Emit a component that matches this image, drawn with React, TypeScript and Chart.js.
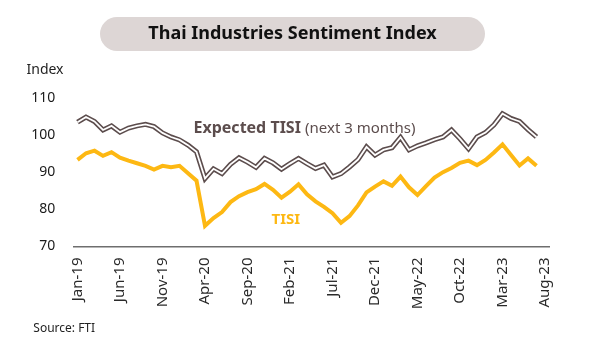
import React, { useEffect, useRef } from 'react';
import { Chart, registerables } from 'chart.js';

Chart.register(...registerables);

const months = [
  'Jan-19', 'Feb-19', 'Mar-19', 'Apr-19', 'May-19', 'Jun-19', 'Jul-19', 'Aug-19', 'Sep-19', 'Oct-19', 'Nov-19', 'Dec-19',
  'Jan-20', 'Feb-20', 'Mar-20', 'Apr-20', 'May-20', 'Jun-20', 'Jul-20', 'Aug-20', 'Sep-20', 'Oct-20', 'Nov-20', 'Dec-20',
  'Jan-21', 'Feb-21', 'Mar-21', 'Apr-21', 'May-21', 'Jun-21', 'Jul-21', 'Aug-21', 'Sep-21', 'Oct-21', 'Nov-21', 'Dec-21',
  'Jan-22', 'Feb-22', 'Mar-22', 'Apr-22', 'May-22', 'Jun-22', 'Jul-22', 'Aug-22', 'Sep-22', 'Oct-22', 'Nov-22', 'Dec-22',
  'Jan-23', 'Feb-23', 'Mar-23', 'Apr-23', 'May-23', 'Jun-23', 'Jul-23', 'Aug-23',
];

const tickLabels = [
  'Jan-19', 'Jun-19', 'Nov-19', 'Apr-20', 'Sep-20', 'Feb-21', 'Jul-21', 'Dec-21', 'May-22', 'Oct-22', 'Mar-23', 'Aug-23',
];

const tisi: (number | null)[] = [
  93.4, 95.2, 95.9, 94.5, 95.5, 94.0, 93.2, 92.5, 91.8, 90.8, 91.8, 91.4,
  91.8, 89.8, 87.8, 75.6, 77.7, 79.3, 82.0, 83.6, 84.7, 85.5, 86.9, 85.3,
  83.2, 84.8, 86.8, 84.1, 82.2, 80.7, 79.0, 76.4, 78.2, 81.1, 84.6, 86.2,
  87.6, 86.4, 88.9, 86.0, 83.9, 86.3, 88.6, 90.1, 91.2, 92.6, 93.2, 92.0,
  93.4, 95.4, 97.6, 94.7, 91.9, 93.8, 91.8, null,
];

const expected: (number | null)[] = [
  103.6, 105.0, 103.8, 101.5, 102.6, 100.9, 102.0, 102.6, 103.0, 102.4, 100.7, 99.6,
  98.8, 97.4, 95.6, 88.4, 91.0, 89.7, 92.2, 94.0, 92.8, 91.4, 93.8, 92.6,
  90.9, 92.4, 93.8, 92.4, 91.1, 92.0, 88.8, 89.7, 91.5, 93.5, 96.9, 94.7,
  96.1, 96.7, 99.5, 96.1, 97.2, 98.0, 98.9, 99.6, 101.5, 99.1, 96.4, 99.6,
  100.8, 102.9, 105.9, 104.6, 103.8, 101.6, 99.6, null,
];

const YELLOW = '#FDB813';
const BROWN = '#5C4D4D';
const FONT = '"Noto Sans", sans-serif';

function Txt(props: {
  x: number; base: number; size: number; center?: boolean; bold?: boolean; color?: string; children: React.ReactNode;
}) {
  const { x, base, size, center, bold, color, children } = props;
  return (
    <div
      style={{
        position: 'absolute',
        left: x,
        top: base - 0.888 * size,
        fontSize: size,
        lineHeight: size + 'px',
        fontWeight: bold ? 700 : 400,
        color: color || '#222',
        whiteSpace: 'nowrap',
        transform: center ? 'translateX(-50%)' : undefined,
        fontFamily: FONT,
      }}
    >
      {children}
    </div>
  );
}

export default function App() {
  const ref = useRef<HTMLCanvasElement>(null);

  useEffect(() => {
    document.body.style.margin = '0';
    const canvas = ref.current;
    if (!canvas) return;
    const chart = new Chart(canvas, {
      type: 'line',
      data: {
        labels: months,
        datasets: [
          {
            label: 'Expected inner',
            data: expected,
            borderColor: '#ffffff',
            borderWidth: 1.8,
            pointRadius: 0,
            tension: 0,
            fill: false,
          },
          {
            label: 'Expected TISI',
            data: expected,
            borderColor: BROWN,
            borderWidth: 5,
            pointRadius: 0,
            tension: 0,
            fill: false,
          },
          {
            label: 'TISI',
            data: tisi,
            borderColor: YELLOW,
            borderWidth: 4,
            pointRadius: 0,
            tension: 0,
            fill: false,
          },
        ],
      },
      options: {
        animation: false,
        responsive: false,
        maintainAspectRatio: false,
        layout: { padding: { top: 98.5, right: 50.75, left: 0, bottom: 0 } },
        plugins: { legend: { display: false }, tooltip: { enabled: false }, title: { display: false } },
        scales: {
          x: {
            type: 'category',
            offset: true,
            grid: { display: false, drawTicks: false },
            border: { display: true, color: '#6e6e6e', width: 1.5 },
            ticks: {
              autoSkip: false,
              maxRotation: 90,
              minRotation: 90,
              padding: 11,
              color: '#2a2a2a',
              font: { family: FONT, size: 15 },
              callback: function (this: any, _v: any, i: number) {
                const l = months[i];
                return tickLabels.includes(l) ? l : '';
              },
            },
            afterFit: (scale: any) => {
              scale.height = 106.5;
            },
          },
          y: {
            min: 70,
            max: 110,
            grid: { display: false, drawTicks: false },
            border: { display: false },
            ticks: {
              stepSize: 10,
              padding: 18,
              color: '#1a1a1a',
              font: { family: FONT, size: 14 },
            },
            afterFit: (scale: any) => {
              scale.width = 73.25;
            },
          },
        },
      },
    });
    return () => chart.destroy();
  }, []);

  return (
    <div style={{ position: 'relative', width: 600, height: 353, overflow: 'hidden', background: '#fff', fontFamily: FONT }}>
      <canvas ref={ref} width={600} height={353} style={{ position: 'absolute', left: 0, top: 0 }} />
      <div
        style={{
          position: 'absolute',
          left: 100,
          top: 17,
          width: 385,
          height: 34,
          borderRadius: 17,
          background: '#DDD6D5',
        }}
      />
      <Txt x={292.5} base={39.3} size={18} bold center color="#111">Thai Industries Sentiment Index</Txt>
      <Txt x={26.5} base={74.3} size={14} color="#222">Index</Txt>
      <Txt x={193.5} base={133.3} size={16} bold color={BROWN}>
        Expected TISI <span style={{ fontWeight: 400, fontSize: 15 }}>(next 3 months)</span>
      </Txt>
      <Txt x={271.5} base={224} size={15} bold color={YELLOW}>TISI</Txt>
      <Txt x={33.3} base={332.3} size={12} color="#222">Source: FTI</Txt>
    </div>
  );
}
